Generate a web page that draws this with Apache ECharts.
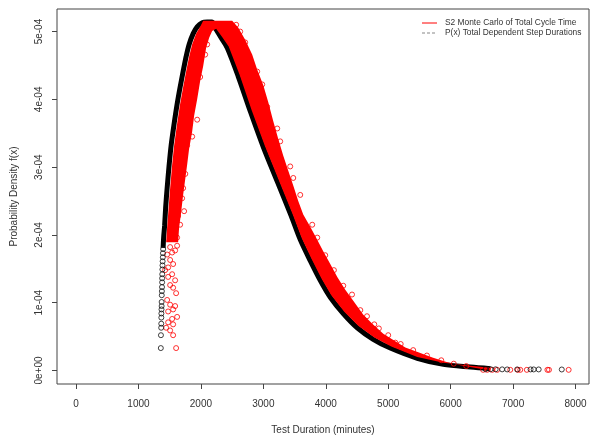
<!DOCTYPE html>
<html>
<head>
<meta charset="utf-8">
<script src="https://cdn.jsdelivr.net/npm/echarts@6/dist/echarts.min.js"></script>
<style>
  html, body { margin: 0; padding: 0; background: #fff; }
  #chart { width: 592px; height: 440px; }
</style>
</head>
<body>
<div id="chart"></div>
<script>
// ticks
var xTicks = [0, 1000, 2000, 3000, 4000, 5000, 6000, 7000, 8000]
var yTicks = [0, 1e-4, 2e-4, 3e-4, 4e-4, 5e-4]
var yTickLabels = ['0e+00', '1e-04', '2e-04', '3e-04', '4e-04', '5e-04']

// P(x) curve
var blackX = [1395, 1403, 1419, 1435, 1459, 1491, 1523, 1571, 1619, 1667, 1715, 1763, 1811, 1876, 1940, 2020, 2100, 2180,
  2244, 2324, 2421, 2597, 2789, 2998, 3222, 3446, 3591, 3751, 3911, 4072, 4280, 4504, 4761, 5033, 5466, 5883, 6316, 6636]
var blackY = [1.81e-4, 1.96e-4, 2.14e-4, 2.40e-4, 2.69e-4, 3.03e-4, 3.32e-4, 3.64e-4, 3.93e-4, 4.18e-4, 4.41e-4, 4.63e-4, 4.81e-4, 4.97e-4, 5.07e-4, 5.13e-4, 5.14e-4, 5.14e-4,
  5.03e-4, 4.91e-4, 4.76e-4, 4.34e-4, 3.83e-4, 3.30e-4, 2.79e-4, 2.28e-4, 1.93e-4, 1.62e-4, 1.33e-4, 1.08e-4, 0.84e-4, 0.63e-4, 0.46e-4, 0.33e-4, 0.18e-4, 0.09e-4, 0.05e-4, 0.026e-4]

// separate black circles (low left end and far tail)
var blackDotX = [1395, 1392, 1390, 1387, 1385, 1383, 1381, 1379, 1379, 1377, 1375, 1373, 1371, 1371, 1369, 1367, 1366, 1365, 1364, 1360, 1358,
  6560, 6640, 6720, 6825, 6905, 7065, 7280, 7330, 7410, 7780]
var blackDotY = [1.79e-4, 1.73e-4, 1.67e-4, 1.61e-4, 1.55e-4, 1.49e-4, 1.42e-4, 1.36e-4, 1.30e-4, 1.23e-4, 1.17e-4, 1.11e-4, 1.01e-4, 0.95e-4, 0.90e-4, 0.84e-4, 0.78e-4, 0.69e-4, 0.63e-4, 0.52e-4, 0.33e-4,
  1.9e-6, 1.8e-6, 1.7e-6, 1.6e-6, 1.5e-6, 1.5e-6, 1.5e-6, 1.5e-6, 1.5e-6, 1.4e-6]

// outline of the dense red Monte Carlo band
var redBandX = [1443, 1459, 1483, 1507, 1539, 1571, 1619, 1667, 1715, 1763, 1811, 1859, 1924, 1988, 2036,
  2501, 2597, 2709, 2821, 2901, 2998, 3078, 3158, 3238, 3318, 3398, 3479, 3559, 3639, 3751, 3863, 3959, 4072, 4184, 4312, 4440, 4601, 4745, 4921, 5114, 5274, 5482, 5707, 5947, 6156, 6428, 6636,
  6636, 6316, 5883, 5466, 5049, 4777, 4520, 4296, 4088, 3935, 3775, 3615, 3471, 3246, 3022, 2813, 2621, 2445, 2340, 2244, 2180,
  2132, 2084, 2036, 1988, 1940, 1892, 1859, 1811, 1779, 1747, 1715, 1683, 1651, 1635]
var redBandY = [1.89e-4, 2.11e-4, 2.40e-4, 2.69e-4, 3.03e-4, 3.32e-4, 3.64e-4, 3.93e-4, 4.18e-4, 4.41e-4, 4.63e-4, 4.81e-4, 4.97e-4, 5.07e-4, 5.16e-4,
  5.16e-4, 5.06e-4, 4.88e-4, 4.66e-4, 4.44e-4, 4.21e-4, 3.96e-4, 3.68e-4, 3.42e-4, 3.17e-4, 2.95e-4, 2.73e-4, 2.50e-4, 2.30e-4, 2.12e-4, 1.93e-4, 1.76e-4, 1.57e-4, 1.38e-4, 1.19e-4, 1.03e-4, 0.82e-4, 0.69e-4, 0.54e-4, 0.43e-4, 0.34e-4, 0.27e-4, 0.19e-4, 0.12e-4, 0.077e-4, 0.034e-4, 0.004e-4,
  0.041e-4, 0.070e-4, 0.114e-4, 0.20e-4, 0.355e-4, 0.486e-4, 0.66e-4, 0.866e-4, 1.11e-4, 1.35e-4, 1.64e-4, 1.95e-4, 2.30e-4, 2.81e-4, 3.32e-4, 3.84e-4, 4.36e-4, 4.78e-4, 4.92e-4, 5.04e-4, 5.01e-4,
  4.91e-4, 4.76e-4, 4.49e-4, 4.27e-4, 4.00e-4, 3.76e-4, 3.52e-4, 3.27e-4, 3.03e-4, 2.81e-4, 2.59e-4, 2.33e-4, 2.11e-4, 1.89e-4]

// loose red circles around the band
var redDotX = [1988, 1908, 1940, 1827, 1876, 1795, 1779, 1715, 1699, 1731, 1635, 1667, 1619, 2068, 2100, 1860, 1750,
  1619, 1507, 1539, 1459, 1587, 1507, 1555, 1475, 1427, 1539, 1475, 1587, 1507, 1555, 1603, 1459, 1507, 1587, 1555, 1475, 1619, 1539, 1475, 1555, 1443, 1507, 1555, 1603,
  2709, 2901, 2982, 2917, 3062, 3222, 3270, 3430, 3479, 3591, 3783, 3863, 4280, 4777, 2629, 2565, 3991, 4553, 5114,
  3700, 4130, 4420, 4660, 4850, 5000, 5200, 5400, 5620, 5850, 6050, 6250,
  6520, 6585, 6665, 6745, 6955, 7075, 7115, 7220, 7550, 7575, 7890]
var redDotY = [4.33e-4, 4.19e-4, 3.70e-4, 3.64e-4, 4.08e-4, 3.92e-4, 3.32e-4, 2.69e-4, 2.54e-4, 2.35e-4, 2.28e-4, 2.15e-4, 1.96e-4, 4.66e-4, 4.81e-4, 3.45e-4, 2.90e-4,
  1.84e-4, 1.82e-4, 1.74e-4, 1.71e-4, 1.77e-4, 1.63e-4, 1.57e-4, 1.52e-4, 1.48e-4, 1.42e-4, 1.38e-4, 1.33e-4, 1.26e-4, 1.22e-4, 1.14e-4, 1.04e-4, 0.97e-4, 0.95e-4, 0.90e-4, 0.87e-4, 0.79e-4, 0.76e-4, 0.71e-4, 0.68e-4, 0.63e-4, 0.59e-4, 0.52e-4, 0.33e-4,
  4.84e-4, 4.41e-4, 4.22e-4, 4.25e-4, 3.89e-4, 3.57e-4, 3.38e-4, 3.01e-4, 2.84e-4, 2.59e-4, 2.15e-4, 1.96e-4, 1.25e-4, 0.68e-4, 5.00e-4, 5.10e-4, 1.70e-4, 0.89e-4, 0.41e-4,
  2.05e-4, 1.48e-4, 1.12e-4, 0.80e-4, 0.62e-4, 0.52e-4, 0.39e-4, 0.30e-4, 0.22e-4, 0.15e-4, 0.10e-4, 0.065e-4,
  0.9e-6, 0.9e-6, 0.9e-6, 0.9e-6, 0.9e-6, 0.9e-6, 0.9e-6, 0.9e-6, 0.9e-6, 0.9e-6, 0.9e-6]

function pairs(xs, ys) {
  return xs.map(function (x, i) { return [x, ys[i]] })
}

var chart = echarts.init(document.getElementById('chart'))
var font = 'Liberation Sans, Arial, sans-serif'

var option = {
  animation: false,
  backgroundColor: '#fff',
  grid: {
    left: 57, top: 9, right: 3, bottom: 52,
    show: true,
    borderColor: '#444',
    borderWidth: 1
  },
  xAxis: {
    type: 'value',
    min: -305,
    max: 8216,
    name: 'Test Duration (minutes)',
    nameLocation: 'middle',
    nameGap: 41,
    nameTextStyle: { color: '#333', fontSize: 10, fontFamily: font },
    axisLine: { show: false, onZero: false },
    splitLine: { show: false },
    axisTick: { show: true, inside: false, length: 5, customValues: xTicks, lineStyle: { color: '#444' } },
    axisLabel: {
      color: '#333', fontSize: 10, fontFamily: font, margin: 15, customValues: xTicks,
      formatter: function (v) { return String(v) }
    }
  },
  yAxis: {
    type: 'value',
    min: -2.0e-5,
    max: 5.333e-4,
    name: 'Probability Density f(x)',
    nameLocation: 'middle',
    nameGap: 38,
    nameTextStyle: { color: '#333', fontSize: 10, fontFamily: font },
    axisLine: { show: false, onZero: false },
    splitLine: { show: false },
    axisTick: { show: true, inside: false, length: 5, customValues: yTicks, lineStyle: { color: '#444' } },
    axisLabel: {
      color: '#333', fontSize: 10, fontFamily: font, margin: 13, rotate: 90,
      customValues: yTicks,
      formatter: function (v) { return yTickLabels[Math.round(v * 1e4)] }
    }
  },
  series: [
    {
      name: 'P(x) Total Dependent Step Durations',
      type: 'line',
      data: pairs(blackX, blackY),
      showSymbol: false,
      smooth: 0.3,
      lineStyle: { color: '#000', width: 5 },
      z: 2
    },
    {
      name: 'S2 Monte Carlo of Total Cycle Time',
      type: 'custom',
      data: [[redBandX[0], redBandY[0]]],
      renderItem: function (params, api) {
        var pts = redBandX.map(function (x, i) { return api.coord([x, redBandY[i]]) })
        return { type: 'polygon', shape: { points: pts }, style: { fill: '#ff0000' } }
      },
      z: 3
    },
    {
      type: 'scatter',
      data: pairs(redDotX, redDotY),
      symbol: 'circle',
      symbolSize: 5,
      itemStyle: { color: 'rgba(0,0,0,0)', borderColor: '#ff0000', borderWidth: 1 },
      z: 4
    },
    {
      type: 'scatter',
      data: pairs(blackDotX, blackDotY),
      symbol: 'circle',
      symbolSize: 5,
      itemStyle: { color: 'rgba(0,0,0,0)', borderColor: '#111', borderWidth: 1 },
      z: 5
    }
  ],
  graphic: [
    { type: 'line', shape: { x1: 422, y1: 23, x2: 437, y2: 23 }, style: { stroke: '#ff0000', lineWidth: 1 } },
    { type: 'line', shape: { x1: 422, y1: 33, x2: 437, y2: 33 }, style: { stroke: '#888', lineWidth: 1.2, lineDash: [3, 2] } },
    { type: 'text', x: 445, y: 23, style: { text: 'S2 Monte Carlo of Total Cycle Time', fill: '#333', font: '8.4px ' + font, verticalAlign: 'middle' } },
    { type: 'text', x: 445, y: 33, style: { text: 'P(x) Total Dependent Step Durations', fill: '#333', font: '8.4px ' + font, verticalAlign: 'middle' } }
  ]
}

chart.setOption(option)
</script>
</body>
</html>
